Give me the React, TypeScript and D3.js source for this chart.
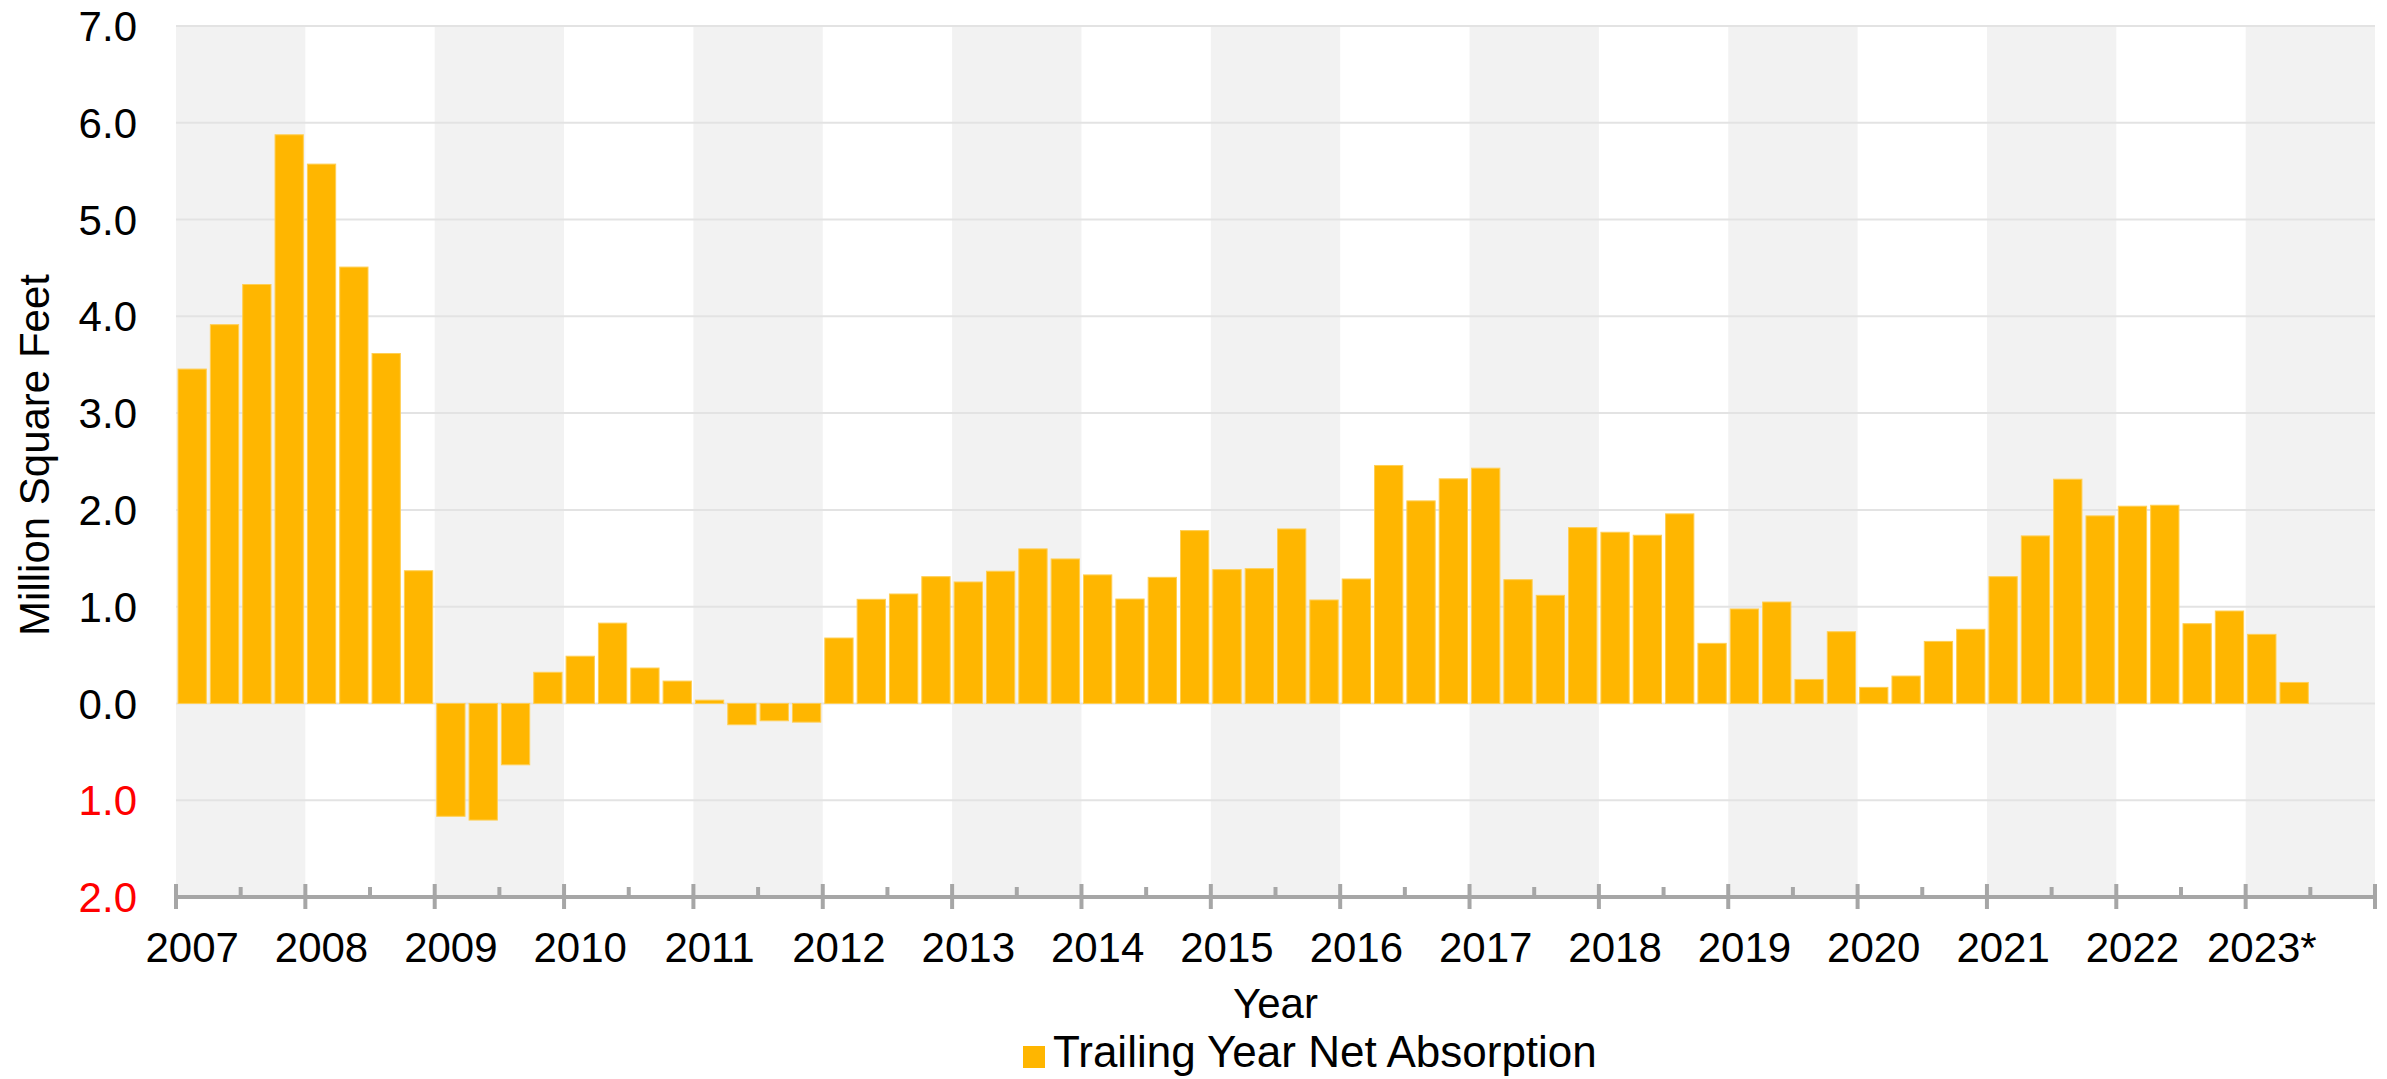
import React from "react";
import * as d3 from "d3";

const years = ["2007","2008","2009","2010","2011","2012","2013","2014","2015","2016","2017","2018","2019","2020","2021","2022","2023*"];
const quarters = ["Q1","Q2","Q3","Q4"];
const absorption = [
  3.455, 3.914, 4.329, 5.876,
  5.573, 4.509, 3.616, 1.371,
  -1.166, -1.205, -0.634, 0.322,
  0.488, 0.830, 0.366, 0.231,
  0.034, -0.22, -0.179, -0.193,
  0.676, 1.076, 1.131, 1.310,
  1.255, 1.366, 1.597, 1.493,
  1.328, 1.079, 1.303, 1.786,
  1.383, 1.393, 1.803, 1.069,
  1.286, 2.459, 2.093, 2.321,
  2.431, 1.279, 1.117, 1.817,
  1.769, 1.738, 1.959, 0.621,
  0.976, 1.048, 0.248, 0.741,
  0.166, 0.283, 0.641, 0.766,
  1.31, 1.731, 2.317, 1.938,
  2.038, 2.048, 0.824, 0.955,
  0.714, 0.217,
];
const yTicks = [-2, -1, 0, 1, 2, 3, 4, 5, 6, 7];
const seriesName = "Trailing Year Net Absorption";
const xTitle = "Year";
const yTitle = "Million Square Feet";

const W = 2387, H = 1079;
const left = 176, right = 2375, top = 26, bottom = 897;
const FONT = "'Liberation Sans', Arial, Helvetica, sans-serif";
const BAR = "#FFB600";

export default function App() {
  const slots = years.flatMap((y) => quarters.map((q) => `${y} ${q}`));
  const x = d3.scaleBand<string>().domain(slots).range([left, right]).paddingInner(0.125).paddingOuter(0.0625);
  const yearX = d3.scaleLinear().domain([0, years.length]).range([left, right]);
  const y = d3.scaleLinear().domain([-2, 7]).range([bottom, top]);

  return (
    <svg width={W} height={H} style={{ position: "absolute", left: 0, top: 0, background: "#fff" }} fontFamily={FONT}>
      {years.map((yr, i) =>
        i % 2 === 0 ? (
          <rect key={"band" + yr} x={yearX(i)} y={top} width={yearX(i + 1) - yearX(i)} height={bottom - top} fill="#f2f2f2" />
        ) : null
      )}
      {yTicks.filter((t) => t > -2).map((t) => (
        <line key={"g" + t} x1={left} x2={right} y1={y(t)} y2={y(t)} stroke="#e3e3e3" strokeWidth={2} />
      ))}
      {absorption.map((v, i) => (
        <rect
          key={"b" + i}
          x={x(slots[i])}
          y={y(Math.max(0, v))}
          width={x.bandwidth()}
          height={Math.abs(y(v) - y(0))}
          fill={BAR}
          stroke="#ffcf55"
          strokeWidth={1}
        />
      ))}
      <line x1={left} x2={right} y1={bottom} y2={bottom} stroke="#a6a6a6" strokeWidth={4} />
      {d3.range(years.length + 1).map((i) => (
        <line key={"mt" + i} x1={yearX(i)} x2={yearX(i)} y1={bottom - 13} y2={bottom + 12} stroke="#a6a6a6" strokeWidth={4} />
      ))}
      {d3.range(years.length).map((i) => (
        <line key={"nt" + i} x1={yearX(i + 0.5)} x2={yearX(i + 0.5)} y1={bottom - 10} y2={bottom} stroke="#a6a6a6" strokeWidth={4} />
      ))}
      {years.map((yr) => (
        <text key={"xl" + yr} x={(x(`${yr} Q1`) ?? 0) + x.bandwidth() / 2} y={962} textAnchor="middle" fontSize={42} fill="#000">
          {yr}
        </text>
      ))}
      {yTicks.map((t) => (
        <text key={"yl" + t} x={137} y={y(t)} dy="0.36em" textAnchor="end" fontSize={42} fill={t < 0 ? "#ff0000" : "#000"}>
          {Math.abs(t).toFixed(1)}
        </text>
      ))}
      <text transform={`translate(49, 455) rotate(-90)`} textAnchor="middle" fontSize={42} fill="#000">
        {yTitle}
      </text>
      <text x={(left + right) / 2} y={1018} textAnchor="middle" fontSize={42} fill="#000">
        {xTitle}
      </text>
      <rect x={1023} y={1046} width={22} height={22} fill={BAR} />
      <text x={1053} y={1067} fontSize={44} fill="#000">
        {seriesName}
      </text>
    </svg>
  );
}
